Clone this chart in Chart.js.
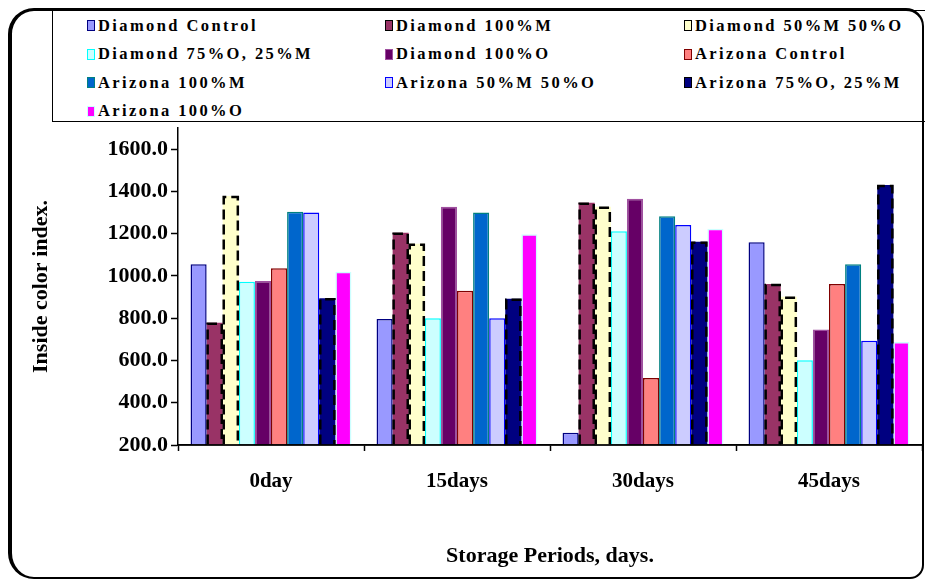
<!DOCTYPE html>
<html>
<head>
<meta charset="utf-8">
<script src="https://cdn.jsdelivr.net/npm/chart.js@4.4.1/dist/chart.umd.min.js"></script>
<style>
  html, body { margin:0; padding:0; background:#fff; overflow:hidden; }
  #wrap { position:relative; width:925px; height:579px; overflow:hidden; }
  #c { position:absolute; left:0; top:0; }
  #legend { position:absolute; left:52px; top:10px; width:890px; height:112px; border:1.5px solid #000; background:#fff; box-sizing:border-box; }
  .item { position:absolute; height:20px; display:flex; align-items:center; white-space:nowrap;
          font-family:"Liberation Serif", "Times New Roman", Times, serif; font-weight:bold; font-size:16.5px; letter-spacing:2.4px; color:#000; }
  .sw { width:6px; height:9px; margin-right:3px; flex:none; }
  #frame { position:absolute; left:8px; top:8px; width:916px; height:571px; box-sizing:border-box;
           border-style:solid; border-color:#000; border-width:3px 2px 2px 4px;
           border-radius:26px 18px 14px 26px; pointer-events:none; }
</style>
</head>
<body>
<div id="wrap">
  <canvas id="c" width="925" height="579"></canvas>
  <div id="legend"></div>
  <div id="frame"></div>
</div>
<script>
// ---- data ----
const categories = ['0day', '15days', '30days', '45days'];
const seriesNames = ['Diamond Control', 'Diamond 100%M', 'Diamond 50%M 50%O',
  'Diamond 75%O, 25%M', 'Diamond 100%O', 'Arizona Control', 'Arizona 100%M',
  'Arizona 50%M 50%O', 'Arizona 75%O, 25%M', 'Arizona 100%O'];
const diamondControl = [1055, 796, 258, 1159];
const diamond100M    = [778, 1204, 1346, 962];
const diamond50M50O  = [1378, 1152, 1327, 901];
const diamond75O25M  = [972, 800, 1211, 601];
const diamond100O    = [976, 1327, 1365, 747];
const arizonaControl = [1036, 930, 517, 962];
const arizona100M    = [1304, 1300, 1283, 1055];
const arizona50M50O  = [1300, 800, 1241, 693];
const arizona75O25M  = [894, 892, 1162, 1430];
const arizona100O    = [1020, 1197, 1223, 687];
const yTickValues = [200, 400, 600, 800, 1000, 1200, 1400, 1600];

const seriesValues = [diamondControl, diamond100M, diamond50M50O, diamond75O25M, diamond100O,
  arizonaControl, arizona100M, arizona50M50O, arizona75O25M, arizona100O];
const fills   = ['#9999FF', '#993366', '#FFFFCC', '#CCFFFF', '#660066', '#FF8080', '#0066CC', '#CCCCFF', '#000080', '#FF00FF'];
const borders = ['#000080', '#993366', '#FFFFCC', '#00FFFF', '#A050A0', '#800000', '#008080', '#0000FF', '#000080', '#CCFFFF'];
const dashed  = [false, true, true, false, false, false, false, false, true, false];

// ---- legend (HTML) ----
const legend = document.getElementById('legend');
const colX = [86, 384, 683], rowY = [24.5, 53, 81.5, 110];
seriesNames.forEach((name, i) => {
  const d = document.createElement('div');
  d.className = 'item';
  d.style.left = (colX[i % 3] - 52) + 'px';
  d.style.top = (rowY[Math.floor(i / 3)] - 10 - 10) + 'px';
  const sw = document.createElement('span');
  sw.className = 'sw';
  sw.style.background = fills[i];
  sw.style.border = '1.5px solid ' + (dashed[i] ? '#000' : borders[i]);
  d.appendChild(sw);
  d.appendChild(document.createTextNode(name));
  legend.appendChild(d);
});

// ---- chart ----
Chart.defaults.font.family = "'Liberation Serif', 'Times New Roman', serif";
Chart.defaults.color = '#000';

const dashPlugin = {
  id: 'dashBorders',
  afterDatasetsDraw(chart) {
    const ctx = chart.ctx;
    const area = chart.chartArea;
    chart.data.datasets.forEach((ds, i) => {
      if (!ds.dashedBorder) return;
      chart.getDatasetMeta(i).data.forEach(bar => {
        const p = bar.getProps(['x', 'y', 'base', 'width'], true);
        const l = p.x - p.width / 2 + 1, r = p.x + p.width / 2 - 1;
        const b = Math.min(p.base, area.bottom);
        ctx.save();
        ctx.strokeStyle = '#000';
        ctx.lineWidth = 2.5;
        ctx.setLineDash([10, 5]);
        ctx.beginPath();
        ctx.moveTo(l, b);
        ctx.lineTo(l, p.y + 1);
        ctx.lineTo(r, p.y + 1);
        ctx.lineTo(r, b);
        ctx.stroke();
        ctx.restore();
      });
    });
    // redraw x axis line over the bars
    ctx.save();
    ctx.strokeStyle = '#000';
    ctx.lineWidth = 1.5;
    ctx.beginPath();
    ctx.moveTo(area.left, area.bottom);
    ctx.lineTo(area.right, area.bottom);
    ctx.stroke();
    ctx.restore();
  }
};

new Chart(document.getElementById('c'), {
  type: 'bar',
  data: {
    labels: categories,
    datasets: seriesNames.map((n, i) => ({
      label: n,
      data: seriesValues[i],
      base: 200,
      backgroundColor: fills[i],
      borderColor: dashed[i] ? fills[i] : borders[i],
      borderWidth: dashed[i] ? 0 : 1.5,
      dashedBorder: dashed[i],
      categoryPercentage: 0.865,
      barPercentage: 1.0
    }))
  },
  plugins: [dashPlugin],
  options: {
    responsive: false,
    animation: false,
    layout: { padding: { top: 128, left: 28, right: 3, bottom: 9 } },
    plugins: { legend: { display: false }, tooltip: { enabled: false } },
    scales: {
      x: {
        grid: { offset: true, drawOnChartArea: false, drawTicks: true, tickLength: 6, tickColor: '#000', tickWidth: 1.5 },
        border: { display: true, color: '#000', width: 1.5 },
        ticks: { font: { size: 21, weight: 'bold' }, color: '#000', padding: 18, maxRotation: 0 },
        title: { display: true, text: 'Storage Periods, days.', font: { size: 22, weight: 'bold' }, color: '#000', padding: { top: 0, bottom: 0 } },
        afterFit(scale) { scale.height = 125; }
      },
      y: {
        min: 200, max: 1700,
        grid: { drawOnChartArea: false, drawTicks: true, tickLength: 7, tickColor: '#000', tickWidth: 1.5 },
        border: { display: true, color: '#000', width: 1.5 },
        ticks: { stepSize: 200, font: { size: 22, weight: 'bold' }, color: '#000', padding: 3,
                 callback: v => Number(v).toFixed(1) },
        afterBuildTicks(scale) { scale.ticks = yTickValues.map(v => ({ value: v })); },
        title: { display: true, text: 'Inside color index.', font: { size: 22, weight: 'bold' }, color: '#000', padding: { top: 0, bottom: 0 } },
        afterFit(scale) { scale.width = 150; }
      }
    }
  }
});
</script>
</body>
</html>
